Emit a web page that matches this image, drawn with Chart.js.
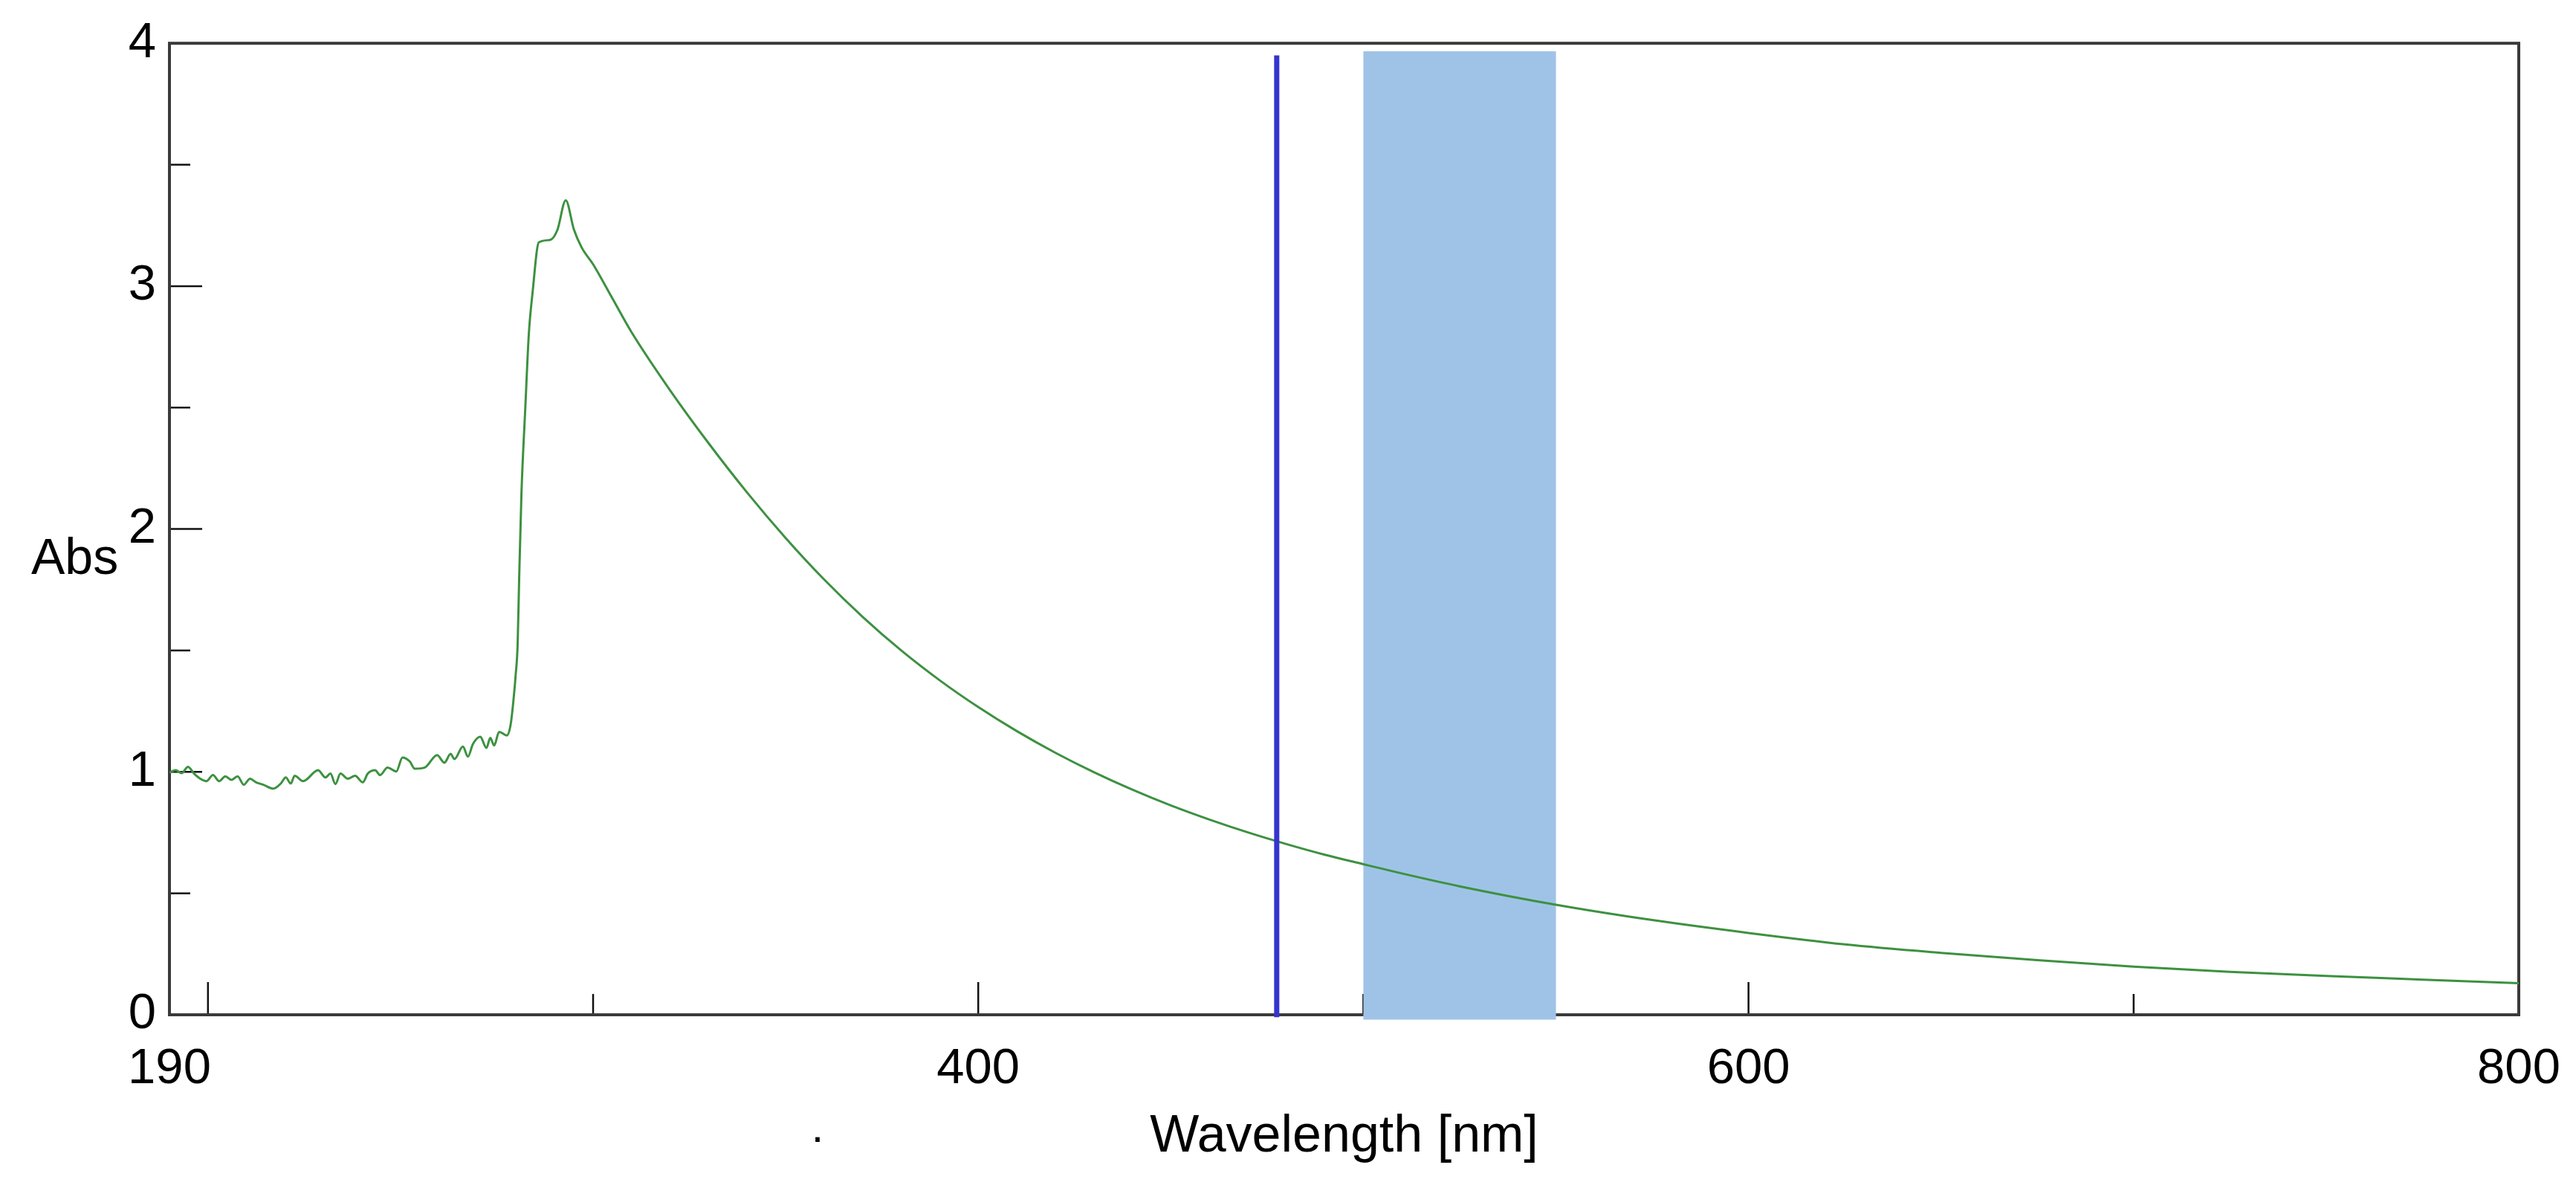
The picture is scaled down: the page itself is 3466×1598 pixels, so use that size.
<!DOCTYPE html>
<html>
<head>
<meta charset="utf-8">
<title>Abs spectrum</title>
<script src="https://cdn.jsdelivr.net/npm/chart.js@4.4.1/dist/chart.umd.min.js"></script>
<style>
  html, body { margin: 0; padding: 0; background: #fff; }
  canvas { display: block; }
</style>
</head>
<body>
<canvas id="spectrum" width="3466" height="1598"></canvas>
<script>
// wavelength in nm
const wavelength = [
    190, 191.6, 193.2, 194.8, 196.4, 198.0, 199.6, 201.3, 202.9, 204.5,
    206.1, 207.7, 209.3, 210.9, 212.5, 214.4, 217.0, 218.9, 220.2, 221.5,
    222.5, 224.7, 228.6, 230.5, 231.8, 233.1, 234.4, 236.3, 238.2, 240.2,
    241.5, 243.4, 244.7, 246.6, 248.9, 250.5, 252.4, 253.7, 256.3, 259.5,
    261.4, 263.0, 264.0, 266.2, 267.5, 268.8, 270.7, 272.3, 273.3, 274.3,
    275.6, 277.6, 278.6, 279.4, 279.9, 280.4, 280.8, 281.4, 282.4, 283.3,
    284.3, 285.9, 288.8, 290.7, 292.9, 295.0, 297.0, 300, 305, 310,
    320, 330, 340, 350, 360, 370, 380, 390, 400, 410,
    420, 430, 440, 450, 460, 470, 480, 490, 500, 510,
    525, 550, 575, 600, 625, 650, 675, 700, 725, 750,
    775, 800
];

// absorbance for each wavelength
const absorbance = [
    0.997, 1.007, 0.995, 1.021, 0.993, 0.972, 0.962, 0.987, 0.962, 0.982,
    0.967, 0.982, 0.947, 0.972, 0.957, 0.947, 0.931, 0.952, 0.977, 0.952,
    0.984, 0.962, 1.007, 0.977, 0.993, 0.950, 0.993, 0.972, 0.984, 0.957,
    0.993, 1.007, 0.987, 1.018, 1.002, 1.059, 1.043, 1.013, 1.018, 1.069,
    1.038, 1.074, 1.053, 1.104, 1.063, 1.115, 1.145, 1.099, 1.140, 1.109,
    1.165, 1.150, 1.196, 1.308, 1.400, 1.522, 1.795, 2.148, 2.500, 2.800,
    2.976, 3.180, 3.190, 3.230, 3.353, 3.234, 3.160, 3.090, 2.950, 2.810,
    2.571, 2.353, 2.150, 1.963, 1.792, 1.638, 1.500, 1.377, 1.267, 1.168,
    1.079, 0.999, 0.927, 0.862, 0.804, 0.751, 0.703, 0.659, 0.620, 0.582,
    0.529, 0.453, 0.390, 0.337, 0.290, 0.255, 0.225, 0.198, 0.177, 0.160,
    0.145, 0.130
];

const xTickLabels = [190, 400, 600, 800];
const yTickLabels = [0, 1, 2, 3, 4];
const xMajorTicks = [200, 400, 600, 800];
const xMinorTicks = [300, 500, 700];
const yMajorTicks = [1, 2, 3];
const yMinorTicks = [0.5, 1.5, 2.5, 3.5];

// marked wavelength and the shaded window
const markerLine = [477.5];
const markerTop = 3.95;
const bandRange = [500, 550];
const bandLimits = [-0.02, 3.967];

const points = wavelength.map((w, i) => ({ x: w, y: absorbance[i] }));

const FONT = 'Liberation Sans, Arial, sans-serif';

function line(ctx, x1, y1, x2, y2) {
    ctx.beginPath();
    ctx.moveTo(x1, y1);
    ctx.lineTo(x2, y2);
    ctx.stroke();
}

const framePlugin = {
    id: 'frame',
    beforeDatasetsDraw(chart) {
        const { ctx, chartArea: a, scales: { x, y } } = chart;
        ctx.save();

        // tick marks point into the plot
        ctx.strokeStyle = '#111';
        ctx.lineWidth = 2.5;
        xMajorTicks.forEach(v => {
            const px = x.getPixelForValue(v);
            line(ctx, px, a.bottom, px, a.bottom - 44);
        });
        xMinorTicks.forEach(v => {
            const px = x.getPixelForValue(v);
            line(ctx, px, a.bottom, px, a.bottom - 28);
        });
        yMajorTicks.forEach(v => {
            const py = y.getPixelForValue(v);
            line(ctx, a.left, py, a.left + 44, py);
        });
        yMinorTicks.forEach(v => {
            const py = y.getPixelForValue(v);
            line(ctx, a.left, py, a.left + 28, py);
        });

        // box
        ctx.strokeStyle = '#3a3a3a';
        ctx.lineWidth = 4;
        ctx.strokeRect(a.left, a.top, a.right - a.left, a.bottom - a.top);

        // shaded window
        const bx1 = x.getPixelForValue(bandRange[0]);
        const bx2 = x.getPixelForValue(bandRange[1]);
        const by1 = y.getPixelForValue(bandLimits[1]);
        const by2 = y.getPixelForValue(bandLimits[0]);
        ctx.fillStyle = '#9fc3e7';
        ctx.fillRect(bx1, by1, bx2 - bx1, by2 - by1);

        ctx.restore();
    },
    afterDatasetsDraw(chart) {
        const { ctx, scales: { x, y } } = chart;
        ctx.save();
        ctx.strokeStyle = '#3434cf';
        ctx.lineWidth = 7;
        markerLine.forEach(v => {
            const px = x.getPixelForValue(v);
            line(ctx, px, y.getPixelForValue(markerTop), px, y.getPixelForValue(-0.01));
        });
        ctx.restore();
    },
    afterDraw(chart) {
        const { ctx } = chart;
        ctx.save();
        ctx.fillStyle = '#000';
        ctx.font = '68px ' + FONT;
        ctx.textAlign = 'left';
        ctx.textBaseline = 'alphabetic';
        ctx.fillText('Abs', 42, 772);
        // stray dot under the axis
        ctx.font = '60px ' + FONT;
        ctx.textAlign = 'center';
        ctx.textBaseline = 'middle';
        ctx.fillText('·', 1100, 1532);
        ctx.restore();
    }
};

const ctx = document.getElementById('spectrum').getContext('2d');

new Chart(ctx, {
    type: 'line',
    data: {
        datasets: [{
            label: 'Abs',
            data: points,
            borderColor: '#3d9140',
            borderWidth: 3,
            pointRadius: 0,
            fill: false,
            cubicInterpolationMode: 'monotone'
        }]
    },
    options: {
        responsive: false,
        animation: false,
        devicePixelRatio: 1,
        layout: {
            padding: { left: 0, right: 77, top: 55, bottom: 0 }
        },
        plugins: {
            legend: { display: false },
            tooltip: { enabled: false }
        },
        scales: {
            x: {
                type: 'linear',
                min: 190,
                max: 800,
                afterBuildTicks: scale => {
                    scale.ticks = xTickLabels.map(v => ({ value: v }));
                },
                afterFit: scale => { scale.height = 233; },
                // ticks are drawn by the plugin; tickLength only spaces the labels
                grid: { display: false, drawTicks: true, tickLength: 33 },
                border: { display: false },
                ticks: {
                    color: '#000',
                    padding: 0,
                    maxRotation: 0,
                    font: { size: 67, family: FONT },
                    callback: v => String(v)
                },
                title: {
                    display: true,
                    text: 'Wavelength [nm]',
                    color: '#000',
                    padding: { top: 0, bottom: 26 },
                    font: { size: 70, family: FONT }
                }
            },
            y: {
                type: 'linear',
                min: 0,
                max: 4,
                afterBuildTicks: scale => {
                    scale.ticks = yTickLabels.map(v => ({ value: v }));
                },
                afterFit: scale => { scale.width = 228; },
                grid: { display: false, drawTicks: false },
                border: { display: false },
                ticks: {
                    color: '#000',
                    padding: 18,
                    font: { size: 67, family: FONT },
                    callback: v => String(v)
                }
            }
        }
    },
    plugins: [framePlugin]
});
</script>
</body>
</html>
